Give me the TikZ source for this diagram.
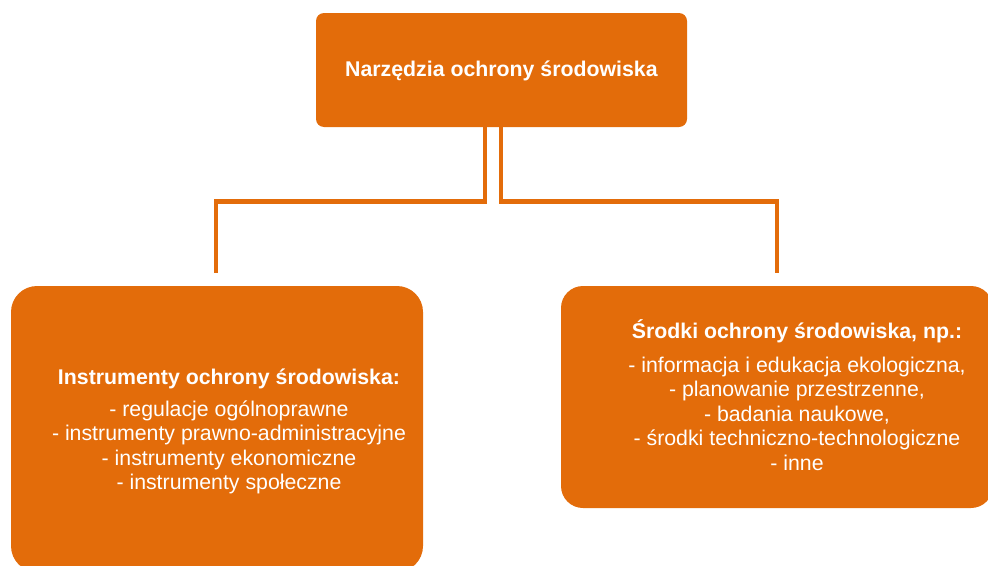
\documentclass[tikz,border=0pt]{standalone}
\usepackage{fontspec}
\setmainfont{Liberation Sans}
\usepackage{xcolor}
\definecolor{orng}{RGB}{227,108,10}
\tikzset{
        box/.style = {fill=orng, rectangle, inner sep=0pt},
        boxtext/.style = {text=white, align=center, inner sep=0pt,
            font=\fontsize{21.3}{24.5}\selectfont},
        link/.style = {draw=orng, line width=4.5pt},
}

\begin{document}
\begin{tikzpicture}[x=1pt, y=-1pt]
\useasboundingbox (0,0) rectangle (988,565);
\clip (0,0) rectangle (988,565);
\node [box, rounded corners=8pt, minimum width=371pt, minimum height=114pt] (root) at (501.5,70) {};
\node [boxtext] (rootText) at (501.5,71) {\textbf{Narzędzia ochrony środowiska}};
\node [box, rounded corners=26pt, minimum width=412pt, minimum height=286pt] (instr) at (217,429) {};
\node [boxtext] (instrText) at (229,431.5) {\textbf{Instrumenty ochrony środowiska:}\\[7pt]
 - regulacje ogólnoprawne\\
 - instrumenty prawno-administracyjne\\
 - instrumenty ekonomiczne\\
 - instrumenty społeczne};
\node [box, rounded corners=22pt, minimum width=432pt, minimum height=222pt] (srodki) at (777,397) {};
\node [boxtext] (srodkiText) at (797,395) {\textbf{Środki ochrony środowiska, np.:}\\[9pt]
 - informacja i edukacja ekologiczna,\\
 - planowanie przestrzenne,\\
 - badania naukowe,\\
 - środki techniczno-technologiczne\\
 - inne};
\coordinate (instrIn) at (216,273);
\coordinate (srodkiIn) at (777,273);
\draw [link] ([xshift=-16.5pt]root.south) -- ++(0,74.5) -| (instrIn);
\draw [link] ([xshift=-0.5pt]root.south) -- ++(0,74.5) -| (srodkiIn);
\end{tikzpicture}
\end{document}
